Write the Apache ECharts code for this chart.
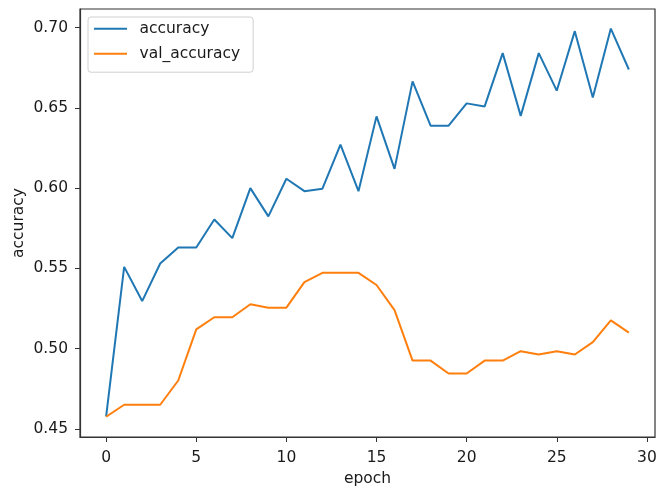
<!DOCTYPE html>
<html><head><meta charset="utf-8">
<script src="https://cdn.jsdelivr.net/npm/echarts@6/dist/echarts.min.js"></script>
<style>html,body{margin:0;padding:0;background:#fff}#c{width:656px;height:489px}</style>
</head><body><div id="c"></div>
<script>
const epochs = [0,1,2,3,4,5,6,7,8,9,10,11,12,13,14,15,16,17,18,19,20,21,22,23,24,25,26,27,28,29];
const accuracy = [0.4578,0.5509,0.5296,0.5530,0.5630,0.5630,0.5804,0.5688,0.6000,0.5824,0.6058,0.5981,0.5996,0.6271,0.5981,0.6447,0.6120,0.6665,0.6389,0.6389,0.6528,0.6509,0.6841,0.6450,0.6841,0.6607,0.6978,0.6565,0.6994,0.6739];
const valAccuracy = [0.4575,0.4650,0.4650,0.4650,0.4801,0.5120,0.5195,0.5195,0.5276,0.5255,0.5255,0.5414,0.5472,0.5472,0.5472,0.5396,0.5240,0.4925,0.4925,0.4845,0.4845,0.4925,0.4925,0.4984,0.4963,0.4984,0.4963,0.5040,0.5176,0.5099];
const xTicks = [0,5,10,15,20,25,30];
const yTicks = [0.45,0.50,0.55,0.60,0.65,0.70];

const font = 'DejaVu Sans';
const txt = '#1a1a1a';
const fs = 15.5;
const lineIcon = 'path://M0,0H100V6H0Z';
const chart = echarts.init(document.getElementById('c'), null, {renderer:'canvas'});
chart.setOption({
  animation:false,
  backgroundColor:'#fff',
  grid:{left:80,top:9,width:575,height:428,show:true,borderColor:'#333',borderWidth:1.2,backgroundColor:'transparent',outerBoundsMode:'none',containLabel:false},
  legend:{
    orient:'vertical', left:88, top:17,
    data:[{name:'accuracy',icon:lineIcon},{name:'val_accuracy',icon:lineIcon}],
    itemWidth:33, itemHeight:16, itemGap:9,
    padding:[3.7,13,10.5,6],
    backgroundColor:'rgba(255,255,255,0.8)', borderColor:'#d0d0d0', borderWidth:1, borderRadius:3,
    textStyle:{fontFamily:font,fontSize:fs,color:txt,padding:[0,0,0,7.5]}
  },
  xAxis:{
    type:'value', min:-1.45, max:30.45,
    name:'epoch', nameLocation:'middle', nameGap:34,
    nameTextStyle:{fontFamily:font,fontSize:fs,color:txt},
    axisLine:{show:true,onZero:false,lineStyle:{color:'#333',width:1.2}},
    axisTick:{show:true,length:5,lineStyle:{color:'#333'},customValues:xTicks},
    axisLabel:{fontFamily:font,fontSize:fs,color:txt,margin:13,customValues:xTicks},
    splitLine:{show:false}
  },
  yAxis:{
    type:'value', min:0.4449, max:0.7116,
    name:'accuracy', nameLocation:'middle', nameGap:53, nameMoveOverlap:false,
    nameTextStyle:{fontFamily:font,fontSize:fs,color:txt},
    axisLine:{show:true,onZero:false,lineStyle:{color:'#333',width:1.2}},
    axisTick:{show:true,length:5,lineStyle:{color:'#333'},customValues:yTicks},
    axisLabel:{fontFamily:font,fontSize:fs,color:txt,margin:12,customValues:yTicks,formatter:v=>v.toFixed(2)},
    splitLine:{show:false}
  },
  series:[
    {name:'accuracy',type:'line',data:epochs.map((e,i)=>[e,accuracy[i]]),showSymbol:false,symbol:'none',lineStyle:{color:'#1f77b4',width:2},itemStyle:{color:'#1f77b4'}},
    {name:'val_accuracy',type:'line',data:epochs.map((e,i)=>[e,valAccuracy[i]]),showSymbol:false,symbol:'none',lineStyle:{color:'#ff7f0e',width:2},itemStyle:{color:'#ff7f0e'}}
  ]
});
</script></body></html>
